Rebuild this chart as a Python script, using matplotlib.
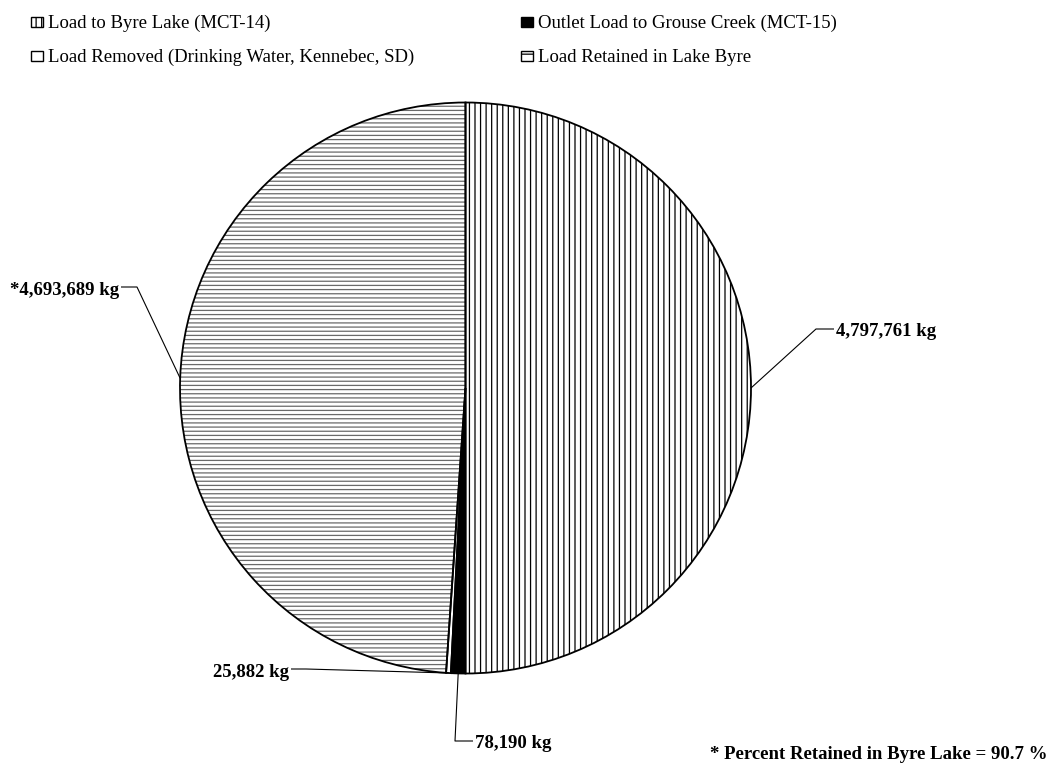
import matplotlib
matplotlib.use("Agg")
import matplotlib.pyplot as plt
from matplotlib.patches import Rectangle
import numpy as np

# ---- data -------------------------------------------------------------
categories = [
    "Load to Byre Lake (MCT-14)",
    "Outlet Load to Grouse Creek (MCT-15)",
    "Load Removed (Drinking Water, Kennebec, SD)",
    "Load Retained in Lake Byre",
]
loads_kg = [4797761, 78190, 25882, 4693689]
label_prefix = ["", "", "", "*"]
percent_retained = 90.7

# ---- style ------------------------------------------------------------
face_colors = ["white", "black", "white", "white"]
fill_hatches = ["|||", "", "", "----"]
hatch_colors = ["black", "black", "black", "#6a6a6a"]
key_hatches = ["|||", "", "", "--"]
plt.rcParams["font.family"] = ["Liberation Serif", "DejaVu Serif"]
plt.rcParams["hatch.linewidth"] = 0.9
FS = 13.5

W, H = 1052, 763
fig = plt.figure(figsize=(W / 100, H / 100), dpi=100)
ax = fig.add_axes([0, 0, 1, 1])

CX, CY, R = 465.5, H - 388.0, 285.5
pie_kw = dict(center=(CX, CY), radius=R, startangle=90, counterclock=False)

# fill layer: hatch colour follows each wedge's (invisible) edge colour
fills, _ = ax.pie(loads_kg, colors=face_colors,
                  wedgeprops=dict(linewidth=0), **pie_kw)
for w, h, hc in zip(fills, fill_hatches, hatch_colors):
    w.set_edgecolor(hc)
    w.set_linewidth(0)
    if h:
        w.set_hatch(h)

# outline layer
wedges, _ = ax.pie(loads_kg, colors=["none"] * len(loads_kg),
                   wedgeprops=dict(edgecolor="black", linewidth=1.3,
                                   fill=False), **pie_kw)

ax.set_xlim(0, W)
ax.set_ylim(0, H)
ax.set_aspect("equal")
ax.axis("off")


def top(y):
    return H - y


# leader layout: (elbow x, elbow y, text x, baseline y, alignment)
leaders = [
    (816, 329, 836, 336, "left"),
    (455, 741, 475, 748, "left"),
    (306, 669, 289, 677, "right"),
    (137, 287, 119, 295, "right"),
]

for w, v, pre, (ex, ey, tx, by, ha) in zip(wedges, loads_kg, label_prefix, leaders):
    mid = np.deg2rad((w.theta1 + w.theta2) / 2.0)
    axp = CX + R * np.cos(mid)
    ayp = CY + R * np.sin(mid)
    hx = tx - 2 if ha == "left" else tx + 2
    ax.plot([axp, ex, hx], [ayp, top(ey), top(ey)], color="black", lw=0.8,
            solid_capstyle="butt")
    ax.text(tx, top(by), f"{pre}{v:,} kg", ha=ha, va="baseline",
            fontsize=FS, fontweight="bold")

# ---- legend -----------------------------------------------------------
legend_slots = [(31, 16.5, 48, 27.5), (521, 16.5, 538, 27.5),
                (31, 50.5, 48, 61.5), (521, 50.5, 538, 61.5)]
for (bx, byt, tx, tb), name, fc, h in zip(legend_slots, categories,
                                          face_colors, key_hatches):
    box = Rectangle((bx, top(byt) - 10), 12, 10, facecolor=fc,
                    edgecolor="black", linewidth=1.0, hatch=h or None)
    ax.add_patch(box)
    ax.text(tx, top(tb), name, ha="left", va="baseline", fontsize=FS)

ax.text(1047, top(759), f"* Percent Retained in Byre Lake = {percent_retained} %",
        ha="right", va="baseline", fontsize=FS, fontweight="bold")

fig.savefig("out.png", dpi=100, facecolor="white")
